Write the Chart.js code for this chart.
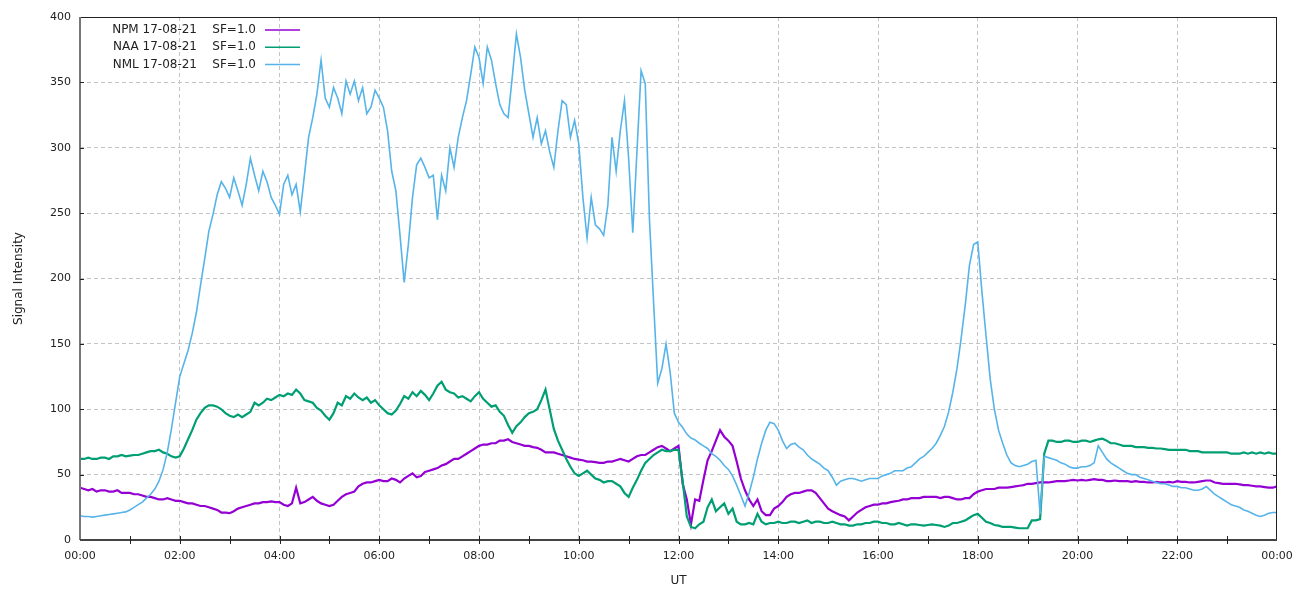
<!DOCTYPE html>
<html>
<head>
<meta charset="utf-8">
<script src="https://cdn.jsdelivr.net/npm/chart.js@4"></script>
<style>
  html, body { margin: 0; padding: 0; background: #fff; }
  #wrap { width: 1293px; height: 590px; }
</style>
</head>
<body>
<div id="wrap"><canvas id="vlfChart" width="1293" height="590"></canvas></div>
<script>
// 5-minute samples, 00:00 to 24:00 UT
const minutes = Array.from({ length: 289 }, (_, i) => i * 5);

const stations = ["NPM 17-08-21", "NAA 17-08-21", "NML 17-08-21"];
const scaleFactor = "SF=1.0";
const colors = ["#9400d3", "#009e73", "#56b4e9"];

const npmValues = [
  40,39,38,39,37,38,38,37,37,38,36,36,
  36,35,35,34,33,33,32,31,31,32,31,30,
  30,29,28,28,27,26,26,25,24,23,21,21,
  20.5,22,24,25,26,27,28,28,29,29,29.5,29,
  29,27,26,28,40,28,29,31,33,30,28,27,
  26,27,30,33,35,36,37,41,43,44,44,45,
  46,45,45,47,46,44,47,49,51,48,49,52,
  53,54,55,57,58,60,62,62,64,66,68,70,
  72,73,73,74,74,76,76,77,75,74,73,72,
  72,71,70.5,69,67,67,67,66,65,64,63,62,
  61.5,61,60,60,59.5,59,59,60,60,61,62,61,
  60,62,64,65,65,67,69,71,72,70,68,70,
  72,43,31,12,31,30,46,61,68,76,84,79,
  76,72,60,47,38,31,26,31,22,19,19,24,
  26,29,33,35,36,36,37,38,38,36,32,28,
  24,22,20.5,19,18,15,18,21,23,25,26,27,
  27,28,28,29,29.5,30,31,31,32,32,32,33,
  33,33,33,32,33,33,32,31,31,32,32,35,
  37,38,39,39,39,40,40,40,40.5,41,41.5,42,
  43,43,43.5,44,44,44,44.5,45,45,45,45.5,46,
  45.5,46,45.5,46,46.5,46,46,45,45,45.5,45,45,
  45,44.5,45,44.5,44.5,44,44,44.5,44,44,44.5,44,
  45,44.5,44.5,44,44,44.5,45,45.5,45.5,44,43.5,43,
  43,43,43,42.5,42,42,41.5,41,41,40.5,40,40,
  41
];

const naaValues = [
  62,62,63,62,62,63,63,62,64,64,65,64,
  64.5,65,65,66,67,68,68,69,67,66,64,63,
  64,70,77,84,92,97,101,103,103,102,100,97,
  95,94,96,94,96,98,105,103,105,108,107,109,
  111,110,112,111,115,112,107,106,105,101,99,95,
  92,97,105,103,110,108,112,109,107,109,105,107,
  103,100,97,96,99,104,110,108,113,110,114,111,
  107,112,118,121,115,113,112,109,110,108,106,110,
  113,108,105,102,103,98,95,88,82,87,90,94,
  97,98,100,107,115,100,85,76,69,62,56,51,
  49,51,53,50,47,46,44,45,45,43,41,36,
  33,40,46,53,59,62,65,67,69,68,68,69,
  69,45,18,10,9,12,14,25,31,22,25,28,
  20,24,14,12,12,13,12,20,14,12,13,13,
  14,13,13,14,14,13,14,15,13,14,14,13,
  13,14,13,12,12,11,11,12,12,13,13,14,
  14,13,13,12,12,13,12,11,12,12,11.5,11,
  11.5,12,11.5,11,10,11,13,13,14,15,17,19,
  20,17,14,13,11.5,11,10,10,10,9.5,9,9,
  9,15,15,16,66,76,76,75,75,76,76,75,
  75,76,76,75,76,77,77.5,76,74,74,73,72,
  72,72,71,71,71,70.5,70.5,70,70,69.5,69,69,
  69,69,69,68,68,68,67,67,67,67,67,67,
  67,66,66,66,67,66,67,66,67,66,67,66,
  66
];

const nmlValues = [
  18.5,18,18,17.5,18,18.5,19,19.5,20,20.5,21,21.5,
  23,25,27,29,32,35,39,45,54,67,85,105,
  125,135,145,158,174,195,215,236,249,264,274,269,
  262,277,267,256,272,292,279,267,282,274,262,256,
  249,272,279,264,272,251,279,308,323,341,367,338,
  331,346,338,326,351,341,351,336,346,326,331,344,
  338,331,313,282,267,233,197,226,262,287,292,285,
  277,279,245,279,267,300,285,308,323,336,356,377,
  369,349,377,367,349,333,326,323,354,387,369,344,
  326,308,323,303,313,297,285,313,336,333,308,321,
  303,262,231,262,241,238,233,256,308,282,313,336,
  292,235,297,359,349,246,182,120,131,150,128,97,
  90,86,81,78,76.5,74,72,70,66,64,61,57,
  54,49,42,34,26,36,48,62,74,84,90,89,
  84,76,70,73,74,71,69,65,62,60,58,55,
  53,48,42,45,46,47,47,46,45,46,47,47,
  47,49,50,51,53,53,53,55,56,59,62,64,
  67,70,74,80,87,98,113,131,154,180,210,226,
  228,190,156,123,100,84,74,65,59,57,56,57,
  58,60,61,20,64,63,62,61,59,58,56,55,
  55,56,56,57,59,72,67,62,59,57,55,53,
  51,50,50,48,47,46,45,44,43,43,42,41,
  41,40,40,39,38,38,39,41,38,35,33,31,
  29,27,26,25,23,22,20.5,19,18,19,20.5,21,
  21
];

const xTickHours = [0, 2, 4, 6, 8, 10, 12, 14, 16, 18, 20, 22, 24];
const yTickValues = [0, 50, 100, 150, 200, 250, 300, 350, 400];

const FONT = "'DejaVu Sans', sans-serif";
const TEXT = "#222";
const GRID = "#c4c4c4";

function hourLabel(h) {
  const hh = Math.round(h) % 24;
  return (hh < 10 ? "0" : "") + hh + ":00";
}

function toPoints(values) {
  return values.map((v, i) => ({ x: minutes[i] / 60, y: v }));
}

// border, minor ticks, legend and axis titles
const framePlugin = {
  id: "framePlugin",
  afterDraw(chart) {
    const { ctx, chartArea: a, scales } = chart;
    ctx.save();

    // box
    ctx.strokeStyle = "#222";
    ctx.lineWidth = 1;
    ctx.strokeRect(a.left + 0.5, a.top + 0.5, a.right - a.left - 1, a.bottom - a.top);
    ctx.strokeStyle = "#777";
    ctx.lineWidth = 2;
    ctx.beginPath();
    ctx.moveTo(a.left, a.top);
    ctx.lineTo(a.left, a.bottom);
    ctx.stroke();
    ctx.strokeStyle = "#444";
    ctx.beginPath();
    ctx.moveTo(a.left, a.bottom);
    ctx.lineTo(a.right, a.bottom);
    ctx.stroke();

    // hour ticks
    ctx.strokeStyle = "#222";
    ctx.lineWidth = 1;
    for (let h = 1; h < 24; h++) {
      const x = Math.round(scales.x.getPixelForValue(h)) + 0.5;
      ctx.beginPath();
      ctx.moveTo(x, a.bottom - 4);
      ctx.lineTo(x, a.bottom + 4);
      ctx.stroke();
    }
    yTickValues.forEach((v) => {
      if (v === 0 || v === 400) return;
      const y = Math.round(scales.y.getPixelForValue(v)) + 0.5;
      ctx.beginPath();
      ctx.moveTo(a.left, y);
      ctx.lineTo(a.left + 4, y);
      ctx.moveTo(a.right - 4, y);
      ctx.lineTo(a.right, y);
      ctx.stroke();
    });

    // legend
    ctx.font = "12px " + FONT;
    ctx.fillStyle = TEXT;
    ctx.textBaseline = "middle";
    ctx.textAlign = "right";
    stations.forEach((name, i) => {
      const y = 30 + i * 17.3;
      ctx.fillStyle = TEXT;
      ctx.fillText(name, 197, y);
      ctx.fillText(scaleFactor, 256, y);
      ctx.strokeStyle = colors[i];
      ctx.lineWidth = 1.5;
      ctx.beginPath();
      ctx.moveTo(265, y);
      ctx.lineTo(300, y);
      ctx.stroke();
    });

    // axis titles
    ctx.fillStyle = TEXT;
    ctx.textAlign = "center";
    ctx.fillText("UT", (a.left + a.right) / 2, 581);
    ctx.translate(19, (a.top + a.bottom) / 2);
    ctx.rotate(-Math.PI / 2);
    ctx.fillText("Signal Intensity", 0, 0);

    ctx.restore();
  },
};

const ctx = document.getElementById("vlfChart").getContext("2d");

window.myChart = new Chart(ctx, {
  type: "line",
  data: {
    datasets: [
      { label: stations[0], data: toPoints(npmValues), borderColor: colors[0], borderWidth: 2.2, order: 3 },
      { label: stations[1], data: toPoints(naaValues), borderColor: colors[1], borderWidth: 2.2, order: 2 },
      { label: stations[2], data: toPoints(nmlValues), borderColor: colors[2], borderWidth: 1.6, order: 1 },
    ],
  },
  options: {
    responsive: false,
    animation: false,
    layout: { padding: { left: 0, top: 17, right: 16, bottom: 0 } },
    elements: {
      point: { radius: 0 },
      line: { tension: 0 },
    },
    plugins: {
      legend: { display: false },
      tooltip: { enabled: false },
    },
    scales: {
      x: {
        type: "linear",
        min: 0,
        max: 24,
        afterFit: (s) => {
          s.height = 50;
          s.paddingLeft = 0;
          s.paddingRight = 0;
        },
        afterBuildTicks: (s) => { s.ticks = xTickHours.map((v) => ({ value: v })); },
        ticks: {
          color: TEXT,
          font: { family: FONT, size: 11 },
          padding: 10,
          maxRotation: 0,
          autoSkip: false,
          callback: (v) => hourLabel(v),
        },
        grid: {
          drawTicks: false,
          color: (c) => (c.tick && (c.tick.value === 0 || c.tick.value === 24) ? "rgba(0,0,0,0)" : GRID),
          lineWidth: 1,
        },
        border: { display: false, dash: [4, 3] },
      },
      y: {
        min: 0,
        max: 400,
        afterFit: (s) => {
          s.width = 80;
          s.paddingTop = 0;
          s.paddingBottom = 0;
        },
        afterBuildTicks: (s) => { s.ticks = yTickValues.map((v) => ({ value: v })); },
        ticks: {
          color: TEXT,
          font: { family: FONT, size: 11 },
          padding: 9,
        },
        grid: {
          drawTicks: false,
          color: (c) => (c.tick && (c.tick.value === 0 || c.tick.value === 400) ? "rgba(0,0,0,0)" : GRID),
          lineWidth: 1,
        },
        border: { display: false, dash: [4, 3] },
      },
    },
  },
  plugins: [framePlugin],
});
</script>
</body>
</html>
